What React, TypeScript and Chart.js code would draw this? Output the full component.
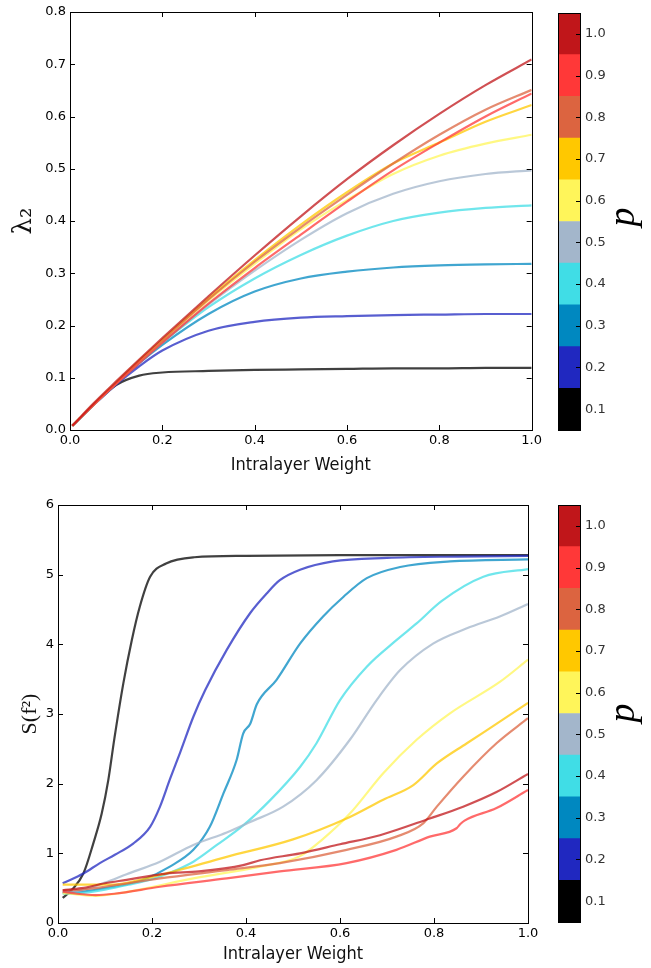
import React, { useEffect, useRef } from 'react';
import { Chart, registerables } from 'chart.js';
Chart.register(...registerables);

// ---------- data ----------
const pValues = [0.1, 0.2, 0.3, 0.4, 0.5, 0.6, 0.7, 0.8, 0.9, 1.0];
const pColors = ['#000000', '#2028c0', '#0088c0', '#40dde6', '#a3b6cb', '#fff55a', '#ffc800', '#dc6440', '#ff3838', '#c0161a'];
const xTickValues = [0, 0.2, 0.4, 0.6, 0.8, 1.0];

// top panel: lambda_2 vs intralayer weight (shared x grid)
const topW = [0.005, 0.05, 0.1, 0.15, 0.2, 0.3, 0.4, 0.5, 0.6, 0.7, 0.8, 0.9, 1.0];
const topP01 = [0.008, 0.047, 0.086, 0.104, 0.110, 0.113, 0.115, 0.116, 0.117, 0.118, 0.118, 0.119, 0.119];
const topP02 = [0.008, 0.047, 0.087, 0.122, 0.152, 0.190, 0.207, 0.215, 0.218, 0.220, 0.221, 0.222, 0.222];
const topP03 = [0.008, 0.047, 0.088, 0.128, 0.163, 0.222, 0.265, 0.290, 0.303, 0.311, 0.315, 0.317, 0.318];
const topP04 = [0.008, 0.047, 0.089, 0.130, 0.167, 0.235, 0.290, 0.335, 0.372, 0.400, 0.416, 0.425, 0.430];
const topP05 = [0.008, 0.047, 0.089, 0.130, 0.168, 0.240, 0.305, 0.364, 0.415, 0.452, 0.476, 0.490, 0.497];
const topP06 = [0.008, 0.048, 0.090, 0.131, 0.171, 0.248, 0.318, 0.384, 0.440, 0.490, 0.525, 0.548, 0.565];
const topP07 = [0.008, 0.048, 0.091, 0.133, 0.173, 0.252, 0.325, 0.393, 0.455, 0.510, 0.550, 0.590, 0.622];
const topP08 = [0.008, 0.048, 0.090, 0.132, 0.172, 0.250, 0.322, 0.388, 0.450, 0.510, 0.565, 0.613, 0.651];
const topP09 = [0.008, 0.047, 0.088, 0.128, 0.167, 0.242, 0.310, 0.374, 0.437, 0.497, 0.550, 0.600, 0.644];
const topP10 = [0.008, 0.050, 0.093, 0.135, 0.176, 0.256, 0.334, 0.409, 0.480, 0.545, 0.605, 0.660, 0.709];
const topSeries = [topP01, topP02, topP03, topP04, topP05, topP06, topP07, topP08, topP09, topP10];

// bottom panel: S(f^2) vs intralayer weight (each curve has its own x samples)
const botX01 = [0.01, 0.03, 0.054, 0.075, 0.093, 0.107, 0.12, 0.139, 0.157, 0.174, 0.196, 0.23, 0.29, 0.4, 0.6, 1.0];
const botY01 = [0.36, 0.48, 0.71, 1.14, 1.57, 2.05, 2.65, 3.44, 4.06, 4.54, 4.97, 5.16, 5.25, 5.27, 5.28, 5.28];
const botX02 = [0.01, 0.054, 0.089, 0.121, 0.16, 0.196, 0.217, 0.238, 0.26, 0.288, 0.313, 0.359, 0.409, 0.444, 0.472, 0.515, 0.585, 0.7, 0.85, 1.0];
const botY02 = [0.57, 0.71, 0.86, 0.98, 1.14, 1.38, 1.67, 2.06, 2.45, 2.96, 3.34, 3.92, 4.45, 4.73, 4.92, 5.07, 5.19, 5.24, 5.26, 5.27];
const botX03 = [0.01, 0.05, 0.1, 0.15, 0.181, 0.238, 0.288, 0.323, 0.352, 0.38, 0.394, 0.409, 0.423, 0.465, 0.515, 0.564, 0.607, 0.657, 0.728, 0.834, 1.0];
const botY03 = [0.44, 0.45, 0.50, 0.56, 0.62, 0.81, 1.05, 1.38, 1.86, 2.34, 2.72, 2.86, 3.14, 3.49, 4.01, 4.40, 4.68, 4.95, 5.11, 5.19, 5.22];
const botX04 = [0.01, 0.05, 0.1, 0.15, 0.2, 0.238, 0.288, 0.338, 0.394, 0.451, 0.515, 0.55, 0.6, 0.657, 0.72, 0.763, 0.816, 0.905, 1.0];
const botY04 = [0.42, 0.43, 0.48, 0.55, 0.63, 0.72, 0.88, 1.12, 1.40, 1.76, 2.24, 2.58, 3.20, 3.68, 4.06, 4.30, 4.62, 4.97, 5.08];
const botX05 = [0.01, 0.05, 0.1, 0.146, 0.217, 0.288, 0.359, 0.409, 0.479, 0.55, 0.621, 0.678, 0.728, 0.798, 0.87, 0.94, 1.0];
const botY05 = [0.43, 0.47, 0.58, 0.70, 0.88, 1.12, 1.30, 1.45, 1.67, 2.05, 2.63, 3.20, 3.63, 4.01, 4.23, 4.40, 4.58];
const botX06 = [0.01, 0.04, 0.08, 0.15, 0.288, 0.43, 0.515, 0.561, 0.621, 0.692, 0.763, 0.834, 0.94, 1.0];
const botY06 = [0.43, 0.41, 0.39, 0.45, 0.64, 0.81, 0.96, 1.19, 1.57, 2.15, 2.63, 3.01, 3.46, 3.78];
const botX07 = [0.01, 0.05, 0.11, 0.217, 0.359, 0.5, 0.614, 0.692, 0.756, 0.806, 0.87, 0.94, 1.0];
const botY07 = [0.55, 0.55, 0.55, 0.69, 0.95, 1.20, 1.50, 1.77, 1.98, 2.29, 2.58, 2.89, 3.16];
const botX08 = [0.01, 0.05, 0.1, 0.217, 0.359, 0.472, 0.614, 0.72, 0.777, 0.806, 0.862, 0.933, 1.0];
const botY08 = [0.47, 0.48, 0.52, 0.64, 0.76, 0.86, 1.05, 1.24, 1.43, 1.67, 2.10, 2.58, 2.94];
const botX09 = [0.01, 0.04, 0.08, 0.12, 0.217, 0.359, 0.472, 0.614, 0.72, 0.791, 0.848, 0.856, 0.865, 0.933, 1.0];
const botY09 = [0.45, 0.42, 0.40, 0.42, 0.52, 0.64, 0.74, 0.86, 1.05, 1.24, 1.36, 1.42, 1.47, 1.65, 1.91];
const botX10 = [0.01, 0.05, 0.1, 0.146, 0.2, 0.23, 0.3, 0.394, 0.43, 0.515, 0.6, 0.685, 0.791, 0.862, 0.933, 1.0];
const botY10 = [0.47, 0.50, 0.57, 0.62, 0.68, 0.71, 0.74, 0.83, 0.90, 1.00, 1.13, 1.26, 1.50, 1.67, 1.88, 2.14];
const botXs = [botX01, botX02, botX03, botX04, botX05, botX06, botX07, botX08, botX09, botX10];
const botYs = [botY01, botY02, botY03, botY04, botY05, botY06, botY07, botY08, botY09, botY10];

// ---------- helpers ----------
function withAlpha(hex: string, a: number) {
  const r = parseInt(hex.slice(1, 3), 16), g = parseInt(hex.slice(3, 5), 16), b = parseInt(hex.slice(5, 7), 16);
  return `rgba(${r},${g},${b},${a})`;
}

const TICK_FONT = { family: "'DejaVu Sans', sans-serif", size: 13 };
const XTITLE_FONT = { family: "'Liberation Sans Narrow', 'DejaVu Sans Condensed', sans-serif", size: 18 };

const framePlugin = {
  id: 'frameTicks',
  afterDatasetsDraw(chart: any) {
    const { ctx, chartArea: a, scales } = chart;
    const L = 5;
    ctx.save();
    ctx.strokeStyle = '#000';
    ctx.lineWidth = 1;
    ctx.beginPath();
    scales.x.ticks.forEach((t: any) => {
      const px = Math.round(scales.x.getPixelForValue(t.value)) + 0.5;
      ctx.moveTo(px, a.bottom); ctx.lineTo(px, a.bottom - L);
      ctx.moveTo(px, a.top); ctx.lineTo(px, a.top + L);
    });
    scales.y.ticks.forEach((t: any) => {
      const py = Math.round(scales.y.getPixelForValue(t.value)) + 0.5;
      ctx.moveTo(a.left, py); ctx.lineTo(a.left + L, py);
      ctx.moveTo(a.right, py); ctx.lineTo(a.right - L, py);
    });
    ctx.stroke();
    ctx.strokeRect(Math.round(a.left) + 0.5, Math.round(a.top) + 0.5, Math.round(a.right - a.left), Math.round(a.bottom - a.top));
    ctx.restore();
  },
};

type LineProps = {
  top: number; width: number; height: number;
  padTop: number; padRight: number; yWidth: number; xHeight: number;
  yMax: number; yStep: number; yDecimals: number;
  yTitle: string; yTitleFont: any; yTitlePad: number; xTitlePad: number;
  datasets: { x: number[]; y: number[] }[];
};

function LinePanel(props: LineProps) {
  const ref = useRef<HTMLCanvasElement>(null);
  useEffect(() => {
    const chart = new Chart(ref.current!, {
      type: 'line',
      data: {
        datasets: props.datasets.map((d, i) => ({
          data: d.x.map((xv, j) => ({ x: xv, y: d.y[j] })),
          borderColor: withAlpha(pColors[i], 0.75),
          borderWidth: 2.2,
          pointRadius: 0,
          fill: false,
          cubicInterpolationMode: 'monotone',
          order: 10 - i,
        })),
      },
      options: {
        responsive: false,
        animation: false,
        devicePixelRatio: 1,
        layout: { padding: { top: props.padTop, right: props.padRight, left: 0, bottom: 0 } },
        plugins: { legend: { display: false }, tooltip: { enabled: false } },
        scales: {
          x: {
            type: 'linear', min: 0, max: 1,
            afterBuildTicks: (s: any) => { s.ticks = xTickValues.map((v) => ({ value: v })); },
            afterFit: (s: any) => { s.height = props.xHeight; },
            grid: { display: false, drawTicks: false },
            border: { display: false },
            ticks: { font: TICK_FONT, color: '#000', padding: 3, maxRotation: 0, callback: (v: any) => Number(v).toFixed(1) },
            title: { display: true, text: 'Intralayer Weight', font: XTITLE_FONT, color: '#111', padding: { top: 0, bottom: props.xTitlePad } },
          },
          y: {
            type: 'linear', min: 0, max: props.yMax,
            ticks: { stepSize: props.yStep, font: TICK_FONT, color: '#000', padding: 4, callback: (v: any) => Number(v).toFixed(props.yDecimals) },
            afterFit: (s: any) => { s.width = props.yWidth; },
            grid: { display: false, drawTicks: false },
            border: { display: false },
            title: { display: true, text: props.yTitle, font: props.yTitleFont, color: '#111', padding: { top: props.yTitlePad, bottom: 0 } },
          },
        },
      } as any,
      plugins: [framePlugin],
    });
    return () => chart.destroy();
  }, []);
  return (
    <canvas ref={ref} width={props.width} height={props.height}
      style={{ position: 'absolute', left: 0, top: props.top, width: props.width, height: props.height }} />
  );
}

type BarProps = { top: number; height: number; padTop: number; padBottom: number; labelCenterY: number };

function ColorBar(props: BarProps) {
  const ref = useRef<HTMLCanvasElement>(null);
  useEffect(() => {
    const cbPlugin = {
      id: 'cbFrame',
      afterDraw(chart: any) {
        const { ctx, chartArea: a, scales } = chart;
        ctx.save();
        ctx.strokeStyle = '#000';
        ctx.lineWidth = 1;
        ctx.beginPath();
        scales.y.ticks.forEach((t: any) => {
          const py = Math.round(scales.y.getPixelForValue(t.value)) + 0.5;
          ctx.moveTo(a.right, py); ctx.lineTo(a.right - 4, py);
        });
        ctx.stroke();
        ctx.strokeRect(Math.round(a.left) + 0.5, Math.round(a.top) + 0.5, Math.round(a.right - a.left), Math.round(a.bottom - a.top));
        ctx.translate(94, props.labelCenterY);
        ctx.rotate(-Math.PI / 2);
        ctx.fillStyle = '#000';
        ctx.font = "italic 38px 'Liberation Serif', serif";
        ctx.textAlign = 'center';
        ctx.textBaseline = 'alphabetic';
        ctx.fillText('p', 0, 0);
        ctx.restore();
      },
    };
    const chart = new Chart(ref.current!, {
      type: 'bar',
      data: {
        labels: [''],
        datasets: pValues.map((p, i) => ({
          data: [[p - 0.05, p + 0.05]],
          backgroundColor: pColors[i],
          borderWidth: 0,
          barPercentage: 1,
          categoryPercentage: 1,
          grouped: false,
        })),
      },
      options: {
        responsive: false,
        animation: false,
        devicePixelRatio: 1,
        layout: { padding: { top: props.padTop, bottom: props.padBottom, left: 18, right: 0 } },
        plugins: { legend: { display: false }, tooltip: { enabled: false } },
        scales: {
          x: { display: false },
          y: {
            position: 'right', min: 0.05, max: 1.05,
            afterBuildTicks: (s: any) => { s.ticks = pValues.map((v) => ({ value: v })); },
            afterFit: (s: any) => { s.width = 71; },
            grid: { display: false, drawTicks: false },
            border: { display: false },
            ticks: { font: TICK_FONT, color: '#333', padding: 5, callback: (v: any) => Number(v).toFixed(1) },
          },
        },
      } as any,
      plugins: [cbPlugin],
    });
    return () => chart.destroy();
  }, []);
  return (
    <canvas ref={ref} width={111} height={props.height}
      style={{ position: 'absolute', left: 540, top: props.top, width: 111, height: props.height }} />
  );
}

export default function App() {
  const topData = topSeries.map((y) => ({ x: topW, y }));
  const botData = botXs.map((x, i) => ({ x, y: botYs[i] }));
  return (
    <div style={{ position: 'fixed', left: 0, top: 0, width: 651, height: 968, background: '#fff', overflow: 'hidden' }}>
      <LinePanel top={0} width={545} height={485} padTop={12} padRight={13} yWidth={70} xHeight={55}
        yMax={0.8} yStep={0.1} yDecimals={1}
        yTitle="λ₂" yTitleFont={{ family: "'DejaVu Serif', serif", size: 26 }} yTitlePad={9} xTitlePad={9}
        datasets={topData} />
      <ColorBar top={0} height={485} padTop={13} padBottom={55} labelCenterY={217} />
      <LinePanel top={485} width={545} height={483} padTop={20} padRight={17} yWidth={58} xHeight={45}
        yMax={6} yStep={1} yDecimals={0}
        yTitle="S(f²)" yTitleFont={{ family: "'Liberation Serif', serif", size: 22 }} yTitlePad={17} xTitlePad={3}
        datasets={botData} />
      <ColorBar top={485} height={483} padTop={20} padBottom={46} labelCenterY={228} />
    </div>
  );
}
